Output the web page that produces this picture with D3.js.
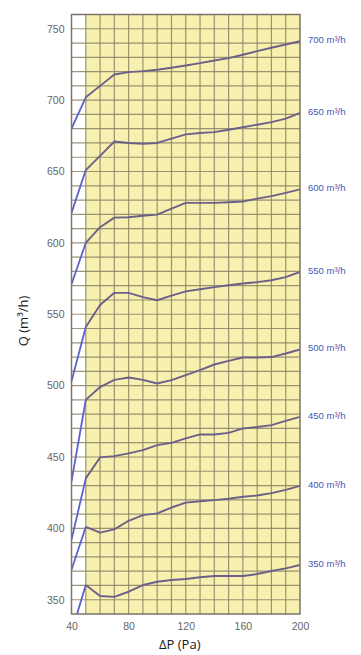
<!DOCTYPE html>
<html>
<head>
<meta charset="utf-8">
<script src="https://cdn.jsdelivr.net/npm/d3@7"></script>
<style>
  html, body { margin: 0; padding: 0; background: #fff; }
  svg { display: block; }
</style>
</head>
<body>
<svg id="chart" width="361" height="655"></svg>
<script>
// ---- data ----
const dpValues = [40, 50, 60, 70, 80, 90, 100, 110, 120, 130, 140, 150, 160, 170, 180, 190, 200];
const q700 = [680, 702, 710, 718, 719.6, 720.3, 721.3, 722.7, 724.3, 725.9, 727.8, 729.4, 731.8, 734.3, 736.7, 739, 741.3];
const q650 = [621, 651, 661, 671, 670, 669.5, 670, 673, 676, 677, 677.6, 679.3, 681, 682.8, 684.6, 687, 691];
const q600 = [571, 600, 611, 617.7, 618, 619, 619.8, 624, 628, 628, 628, 628.5, 629, 631, 632.8, 635, 637.5];
const q550 = [503, 541, 556.5, 565, 565, 562, 559.8, 563, 566, 567.5, 569, 570.3, 571.5, 572.5, 573.8, 576, 579.6];
const q500 = [433, 490, 499, 504, 505.7, 504, 501.5, 503.8, 507.3, 510.8, 514.8, 517.3, 519.7, 519.7, 520, 522.5, 525.3];
const q450 = [392, 435, 449.7, 450.6, 452.5, 454.8, 458.3, 459.9, 463, 465.8, 465.8, 466.9, 470, 471, 472.3, 475.3, 478.1];
const q400 = [371, 401, 397, 399.3, 405.3, 409.3, 410.5, 414.6, 418, 419, 419.8, 420.7, 422.1, 423, 424.7, 427, 429.8];
const q350 = [327, 360.3, 352.6, 352, 355.6, 360.3, 362.6, 363.8, 364.5, 365.7, 366.6, 366.6, 366.6, 368, 370.1, 372, 374.3];
const seriesLabels = ["700 m³/h", "650 m³/h", "600 m³/h", "550 m³/h", "500 m³/h", "450 m³/h", "400 m³/h", "350 m³/h"];
const seriesValues = [q700, q650, q600, q550, q500, q450, q400, q350];
const xTickValues = [40, 80, 120, 160, 200];
const yTickValues = [350, 400, 450, 500, 550, 600, 650, 700, 750];
const xDomain = [40, 200];
const yDomain = [340, 760];
const shadedStart = 50;

// ---- layout ----
const pLeft = 71.5, pRight = 300, pTop = 14.5, pBottom = 614;
const svg = d3.select("#chart");
const x = d3.scaleLinear().domain(xDomain).range([pLeft, pRight]);
const y = d3.scaleLinear().domain(yDomain).range([pBottom, pTop]);

svg.append("defs").append("clipPath").attr("id", "plotclip")
  .append("rect").attr("x", pLeft).attr("y", pTop).attr("width", pRight - pLeft).attr("height", pBottom - pTop);

// backgrounds
svg.append("rect").attr("x", pLeft).attr("y", pTop).attr("width", pRight - pLeft).attr("height", pBottom - pTop).attr("fill", "#ffffff");
svg.append("rect").attr("x", x(shadedStart)).attr("y", pTop).attr("width", pRight - x(shadedStart)).attr("height", pBottom - pTop).attr("fill", "#f8f0ae");

// grid
const gGrid = svg.append("g");
const hLines = d3.range(yDomain[0] + 10, yDomain[1], 10);
gGrid.selectAll("line.h").data(hLines).join("line")
  .attr("x1", pLeft).attr("x2", pRight)
  .attr("y1", d => y(d)).attr("y2", d => y(d))
  .attr("stroke", "#8a8268").attr("stroke-width", 1.2).attr("stroke-opacity", 0.85);
const vLines = d3.range(shadedStart, xDomain[1], 10);
gGrid.selectAll("line.v").data(vLines).join("line")
  .attr("y1", pTop).attr("y2", pBottom)
  .attr("x1", d => x(d)).attr("x2", d => x(d))
  .attr("stroke", "#8a8268").attr("stroke-width", 1.2).attr("stroke-opacity", 0.85);

// curves
const line = d3.line().x(d => x(d[0])).y(d => y(d[1]));
const gCurves = svg.append("g").attr("clip-path", "url(#plotclip)");
seriesValues.forEach(vals => {
  const pts = dpValues.map((d, i) => [d, vals[i]]);
  const steep = pts.filter(p => p[0] <= shadedStart);
  const flat = pts.filter(p => p[0] >= shadedStart);
  gCurves.append("path").attr("d", line(steep)).attr("fill", "none")
    .attr("stroke", "#5a62cc").attr("stroke-width", 1.8).attr("stroke-linejoin", "round");
  gCurves.append("path").attr("d", line(flat)).attr("fill", "none")
    .attr("stroke", "#6c6088").attr("stroke-width", 1.9).attr("stroke-linejoin", "round");
});

// frame
svg.append("rect").attr("x", pLeft).attr("y", pTop).attr("width", pRight - pLeft).attr("height", pBottom - pTop)
  .attr("fill", "none").attr("stroke", "#7a7468").attr("stroke-width", 1.5);

// axes
const yAxis = d3.axisLeft(y).tickValues(yTickValues).tickSize(0).tickPadding(7);
const gy = svg.append("g").attr("transform", `translate(${pLeft},0)`).call(yAxis);
gy.select(".domain").remove();
gy.selectAll("text").attr("font-family", "Liberation Sans, Arial, sans-serif").attr("font-size", 10.5).attr("fill", "#666");

const xAxis = d3.axisBottom(x).tickValues(xTickValues).tickSize(0).tickPadding(9);
const gx = svg.append("g").attr("transform", `translate(0,${pBottom})`).call(xAxis);
gx.select(".domain").remove();
gx.selectAll("text").attr("font-family", "Liberation Sans, Arial, sans-serif").attr("font-size", 10.5).attr("fill", "#666");

// series labels
svg.append("g").selectAll("text").data(seriesValues).join("text")
  .attr("x", pRight + 8)
  .attr("y", d => y(d[d.length - 1]))
  .attr("dy", "0.2em")
  .attr("font-family", "Liberation Sans, Arial, sans-serif")
  .attr("font-size", 9.5)
  .attr("fill", "#4455b8")
  .text((d, i) => seriesLabels[i]);

// axis titles
svg.append("text").attr("x", (pLeft + pRight) / 2 - 6).attr("y", 649)
  .attr("text-anchor", "middle").attr("font-family", "Open Sans, sans-serif").attr("font-size", 13)
  .attr("fill", "#1a1a1a").text("ΔP (Pa)");
svg.append("text").attr("transform", `translate(28,321) rotate(-90)`)
  .attr("text-anchor", "middle").attr("font-family", "Open Sans, sans-serif").attr("font-size", 13)
  .attr("fill", "#1a1a1a").text("Q (m³/h)");
</script>
</body>
</html>
